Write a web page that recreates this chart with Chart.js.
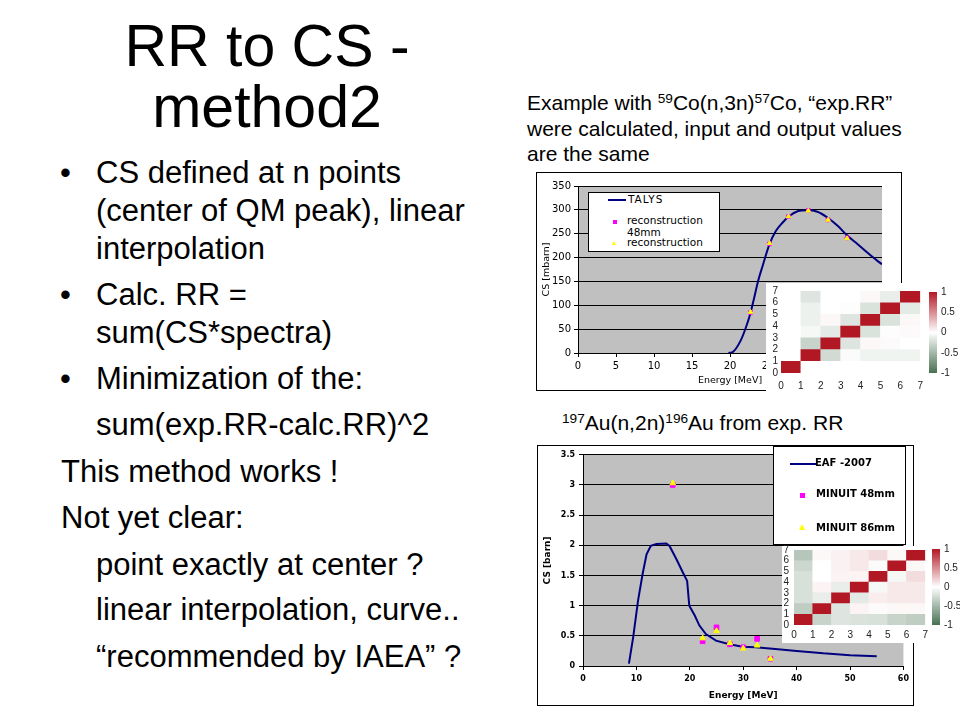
<!DOCTYPE html>
<html>
<head>
<meta charset="utf-8">
<script src="https://cdn.jsdelivr.net/npm/chart.js@4.4.1/dist/chart.umd.min.js"></script>
<style>
  html, body { margin: 0; padding: 0; background: #fff; }
  #page { position: relative; width: 960px; height: 720px; overflow: hidden; font-family: "Liberation Sans", Arial, sans-serif; color: #000; }
  .t { position: absolute; white-space: nowrap; }
  .title { left: 0; width: 534px; text-align: center; font-size: 59px; line-height: 59px; }
  .b { font-size: 31px; line-height: 31px; }
  .r { font-size: 21px; line-height: 21px; }
  sup { font-size: 0.65em; vertical-align: baseline; position: relative; top: -0.5em; }
  canvas { position: absolute; }
  .frame { outline: 1px solid #000; background: #fff; }
  .inset { position: absolute; background: #fff; }
  .legend { position: absolute; background: #fff; border: 1px solid #000; box-sizing: border-box; }
  .lg { position: absolute; white-space: nowrap; font-family: "DejaVu Sans", sans-serif; }
</style>
</head>
<body>
<div id="page">
  <div class="t title" style="top:17px">RR to CS -</div>
  <div class="t title" style="top:78px">method2</div>

  <div class="t b" style="left:60px;top:157px">•</div>
  <div class="t b" style="left:96px;top:157px">CS defined at n points</div>
  <div class="t b" style="left:96px;top:195px">(center of QM peak), linear</div>
  <div class="t b" style="left:96px;top:233px">interpolation</div>
  <div class="t b" style="left:60px;top:279px">•</div>
  <div class="t b" style="left:96px;top:279px">Calc. RR =</div>
  <div class="t b" style="left:96px;top:317px">sum(CS*spectra)</div>
  <div class="t b" style="left:60px;top:363px">•</div>
  <div class="t b" style="left:96px;top:363px">Minimization of the:</div>
  <div class="t b" style="left:96px;top:409px">sum(exp.RR-calc.RR)^2</div>
  <div class="t b" style="left:61px;top:456px">This method works !</div>
  <div class="t b" style="left:61px;top:502px">Not yet clear:</div>
  <div class="t b" style="left:96px;top:549px">point exactly at center ?</div>
  <div class="t b" style="left:96px;top:594px">linear interpolation, curve..</div>
  <div class="t b" style="left:96px;top:641px">“recommended by IAEA” ?</div>

  <div class="t r" style="left:527px;top:92px">Example with <sup>59</sup>Co(n,3n)<sup>57</sup>Co, “exp.RR”</div>
  <div class="t r" style="left:527px;top:118px">were calculated, input and output values</div>
  <div class="t r" style="left:527px;top:143px">are the same</div>
  <div class="t r" style="left:562px;top:412px"><sup>197</sup>Au(n,2n)<sup>196</sup>Au from exp. RR</div>

  <!-- Co chart -->
  <canvas id="co" class="frame" width="364" height="217" style="left:537px;top:173px"></canvas>
  <div class="legend" style="left:588px;top:192px;width:132px;height:60px">
    <div style="position:absolute;left:19px;top:6px;width:18px;height:2px;background:#000080"></div>
    <div class="lg" style="left:39px;top:0px;font-size:10.5px;letter-spacing:1px">TALYS</div>
    <div style="position:absolute;left:24px;top:27px;width:4px;height:4px;background:#ff00ff"></div>
    <div class="lg" style="left:38px;top:22px;font-size:10.5px;line-height:11.5px">reconstruction<br>48mm</div>
    <div style="position:absolute;left:23px;top:48px;width:0;height:0;border-left:2.5px solid transparent;border-right:2.5px solid transparent;border-bottom:4px solid #ffff00"></div>
    <div class="lg" style="left:38px;top:44px;font-size:10.5px;line-height:11px">reconstruction</div>
  </div>

  <div class="inset" style="left:766px;top:283px;width:194px;height:109px"></div>
  <canvas id="coMat" width="164" height="110" style="left:766px;top:282px"></canvas>
  <canvas id="coBar" width="35" height="110" style="left:925px;top:282px"></canvas>

  <!-- Au chart -->
  <canvas id="au" class="frame" width="375" height="259" style="left:538px;top:446px"></canvas>
  <div class="legend" style="left:773px;top:446px;width:133px;height:99px">
    <div style="position:absolute;left:16px;top:16px;width:26px;height:2px;background:#000080"></div>
    <div class="lg" style="left:41px;top:10px;font-size:10px;font-weight:bold">EAF -2007</div>
    <div style="position:absolute;left:26px;top:46px;width:5px;height:5px;background:#ff00ff"></div>
    <div class="lg" style="left:42px;top:41px;font-size:10px;font-weight:bold">MINUIT 48mm</div>
    <div style="position:absolute;left:25px;top:77px;width:0;height:0;border-left:3.5px solid transparent;border-right:3.5px solid transparent;border-bottom:6px solid #ffff00"></div>
    <div class="lg" style="left:42px;top:75px;font-size:10px;font-weight:bold">MINUIT 86mm</div>
  </div>

  <div class="inset" style="left:782px;top:546px;width:178px;height:97px"></div>
  <canvas id="auMat" width="150" height="104" style="left:782px;top:539px"></canvas>
  <canvas id="auBar" width="32" height="104" style="left:928px;top:539px"></canvas>
</div>

<script>
// 59Co(n,3n)57Co
const talysEnergy = [19.8, 20.35, 21.4, 22.1, 22.7, 23.2, 23.7, 24.3, 25.2, 26.05, 26.9, 27.8, 28.9, 30.2, 31.5, 32.9, 34.2, 35.5, 36.8, 38.1, 39.4, 40];
const talysCS     = [0, 2, 26, 54, 84, 117, 151, 183, 228, 256, 273, 287, 297, 299, 296, 283, 266, 245, 228, 210, 193, 186];
const coRecEnergy = [22.7, 25.2, 27.7, 30.3, 32.9, 35.4];
const coRec48     = [85, 229, 286, 299, 279, 241];
const coRec86     = [86, 230, 286, 298, 279, 240];

// 197Au(n,2n)196Au
const eafEnergy = [8.6, 9.4, 10.3, 11.15, 11.9, 12.7, 13.75, 15.6, 16.2, 17.5, 18.7, 19.5, 19.9, 20.9, 21.8, 23.0, 24.9, 27.4, 29.9, 32.3, 36, 40, 45, 50, 55];
const eafCS     = [0.04, 0.48, 1.08, 1.52, 1.85, 1.99, 2.02, 2.03, 1.99, 1.77, 1.55, 1.41, 1.0, 0.84, 0.67, 0.53, 0.42, 0.36, 0.32, 0.31, 0.28, 0.25, 0.21, 0.18, 0.16];
const minuitEnergy = [16.8, 22.4, 25.0, 27.5, 30.0, 32.6, 35.1];
const minuit48     = [3.0, 0.41, 0.64, 0.36, 0.31, 0.45, 0.12];
const minuit86     = [3.03, 0.46, 0.58, 0.38, 0.29, 0.34, 0.12];

// correlation matrices, row = y bin 0..6, column = x bin 0..6
const coCorr = [
  [1, 0, 0, 0, 0, 0, 0],
  [0, 1, -0.25, -0.03, -0.08, -0.08, -0.08],
  [0, -0.3, 1, -0.18, 0.03, 0.02, 0],
  [0, -0.05, -0.15, 1, -0.2, 0.01, 0.02],
  [0, -0.1, 0.03, -0.18, 1, -0.2, 0.03],
  [0, -0.1, 0, 0.01, -0.2, 1, -0.15],
  [0, -0.18, 0, 0, 0.03, -0.12, 1]
];
const auCorr = [
  [1, -0.3, -0.18, -0.2, -0.22, -0.3, -0.35],
  [-0.35, 1, -0.18, 0.05, 0.02, 0.03, 0.03],
  [-0.22, -0.12, 1, -0.15, 0.08, 0.1, 0.1],
  [-0.22, 0.05, -0.12, 1, -0.05, 0.1, 0.1],
  [-0.22, 0, 0.05, 0.05, 1, -0.05, 0.15],
  [-0.28, 0, 0.06, 0.1, -0.03, 1, 0.03],
  [-0.4, 0.03, 0.06, 0.1, 0.15, 0.03, 1]
];
const colorbarRange = [-1, 1];
const colorbarStops = [-1, -0.5, 0, 0.5, 1];

Chart.defaults.font.family = 'DejaVu Sans';
Chart.defaults.color = '#000';

function pts(xs, ys) {
  return xs.map((x, i) => ({x: x, y: ys[i]}));
}

function cellColor(v) {
  const red = [178, 24, 36], green = [72, 112, 82];
  const end = v >= 0 ? red : green;
  const t = Math.min(1, Math.abs(v));
  const c = end.map(e => Math.round(255 + (e - 255) * t));
  return 'rgb(' + c.join(',') + ')';
}

const plainNum = v => String(v);

const plotBg = {
  id: 'plotBg',
  beforeDraw(chart) {
    const {ctx, chartArea: a} = chart;
    ctx.save();
    ctx.fillStyle = '#c0c0c0';
    ctx.fillRect(a.left, a.top, a.width, a.height);
    ctx.restore();
  }
};

function mainChart(id, o) {
  return new Chart(document.getElementById(id), {
    type: 'scatter',
    data: {
      datasets: [{
        data: o.yellow, pointStyle: 'triangle', pointRadius: o.tri,
        backgroundColor: '#ffff00', borderColor: '#ffff00', borderWidth: 1, order: 0
      }, {
        data: o.magenta, pointStyle: 'rect', pointRadius: o.sq,
        backgroundColor: '#ff00ff', borderColor: '#ff00ff', borderWidth: 1, order: 1
      }, {
        type: 'line', data: o.curve, showLine: true, pointRadius: 0,
        borderColor: '#000080', borderWidth: 2, fill: false,
        cubicInterpolationMode: o.smooth ? 'monotone' : 'default', tension: 0, order: 2
      }]
    },
    options: {
      responsive: false,
      animation: false,
      layout: {padding: o.padding},
      plugins: {legend: {display: false}, tooltip: {enabled: false}},
      scales: {
        x: {
          type: 'linear', min: 0, max: o.xmax,
          ticks: {stepSize: o.xstep, padding: o.tickPad, font: o.tickFont, color: '#000', autoSkip: false, callback: plainNum},
          grid: {drawOnChartArea: false, drawTicks: true, tickLength: 4, color: '#000'},
          border: {color: '#000'},
          title: {display: true, text: 'Energy [MeV]', font: o.titleFont, color: '#000'},
          afterFit(axis) { axis.height = o.xh; }
        },
        y: {
          min: 0, max: o.ymax,
          ticks: {stepSize: o.ystep, padding: o.tickPad, font: o.tickFont, color: '#000', autoSkip: false, callback: plainNum},
          grid: {color: '#000', drawTicks: true, tickLength: 4},
          border: {color: '#000'},
          title: {display: true, text: o.ytitle, font: o.titleFont, color: '#000'},
          afterFit(axis) { axis.width = o.yw; }
        }
      }
    },
    plugins: [plotBg]
  });
}

mainChart('co', {
  yellow: pts(coRecEnergy, coRec86), magenta: pts(coRecEnergy, coRec48),
  curve: pts(talysEnergy, talysCS), smooth: true, tri: 2.6, sq: 2.6,
  padding: {top: 13, right: 19, left: 0, bottom: 0},
  xmax: 40, xstep: 5, ymax: 350, ystep: 50, ytitle: 'CS [mbarn]',
  tickFont: {size: 10}, titleFont: {size: 9.5}, tickPad: 3, xh: 37, yw: 41
});

mainChart('au', {
  yellow: pts(minuitEnergy, minuit86), magenta: pts(minuitEnergy, minuit48),
  curve: pts(eafEnergy, eafCS), smooth: false, tri: 3.2, sq: 3.3,
  padding: {top: 8, right: 7, left: 0, bottom: 0},
  xmax: 60, xstep: 10, ymax: 3.5, ystep: 0.5, ytitle: 'CS [barn]',
  tickFont: {size: 8, weight: 'bold'}, titleFont: {size: 9, weight: 'bold'}, tickPad: 4, xh: 39, yw: 45
});

function matrixChart(id, matrix, o) {
  const datasets = matrix.map((row, j) => ({
    data: row.map((v, i) => ({x: i + 0.5, y: [j, j + 1]})),
    backgroundColor: row.map(cellColor),
    borderWidth: 0,
    barPercentage: 1,
    categoryPercentage: 1,
    grouped: false
  }));
  const tickFont = {family: 'Liberation Sans', size: 10};
  return new Chart(document.getElementById(id), {
    type: 'bar',
    data: {datasets: datasets},
    options: {
      responsive: false,
      animation: false,
      layout: {padding: {top: o.top, right: o.right, left: 0, bottom: 0}},
      plugins: {legend: {display: false}, tooltip: {enabled: false}},
      scales: {
        x: {
          type: 'linear', min: 0, max: 7, offset: false,
          ticks: {stepSize: 1, autoSkip: false, maxRotation: 0, padding: o.xpad, font: tickFont, color: '#222'},
          grid: {display: false, drawTicks: false}, border: {display: false},
          afterFit(axis) { axis.height = o.xh; }
        },
        y: {
          type: 'linear', min: 0, max: 7,
          ticks: {stepSize: 1, autoSkip: false, padding: o.ypad, font: tickFont, color: '#222'},
          grid: {display: false, drawTicks: false}, border: {display: false},
          afterFit(axis) { axis.width = o.yw; }
        }
      }
    }
  });
}

function colorbarChart(id, o) {
  const tickFont = {family: 'Liberation Sans', size: 10};
  return new Chart(document.getElementById(id), {
    type: 'bar',
    data: {
      labels: ['cb'],
      datasets: [{
        data: [colorbarRange],
        barPercentage: 1,
        categoryPercentage: 1,
        borderWidth: 0,
        backgroundColor(ctx) {
          const a = ctx.chart.chartArea;
          if (!a) return null;
          const g = ctx.chart.ctx.createLinearGradient(0, a.bottom, 0, a.top);
          colorbarStops.forEach(v => g.addColorStop((v - colorbarRange[0]) / (colorbarRange[1] - colorbarRange[0]), cellColor(v)));
          return g;
        }
      }]
    },
    options: {
      responsive: false,
      animation: false,
      layout: {padding: {top: o.top, bottom: o.bottom, left: 4, right: 0}},
      plugins: {legend: {display: false}, tooltip: {enabled: false}},
      scales: {
        x: {display: false},
        y: {
          position: 'right', min: colorbarRange[0], max: colorbarRange[1],
          ticks: {stepSize: 0.5, autoSkip: false, padding: 4, font: tickFont, color: '#222', callback: plainNum},
          grid: {display: false, drawTicks: false}, border: {display: false},
          afterFit(axis) { axis.width = o.yw; }
        }
      }
    }
  });
}

matrixChart('coMat', coCorr, {top: 6, right: 4, xh: 19, yw: 15, xpad: 7, ypad: 3});
colorbarChart('coBar', {top: 6, bottom: 19, yw: 23});
matrixChart('auMat', auCorr, {top: 7, right: 4, xh: 18, yw: 12, xpad: 4, ypad: 5});
colorbarChart('auBar', {top: 7, bottom: 18, yw: 20});
</script>
</body>
</html>
